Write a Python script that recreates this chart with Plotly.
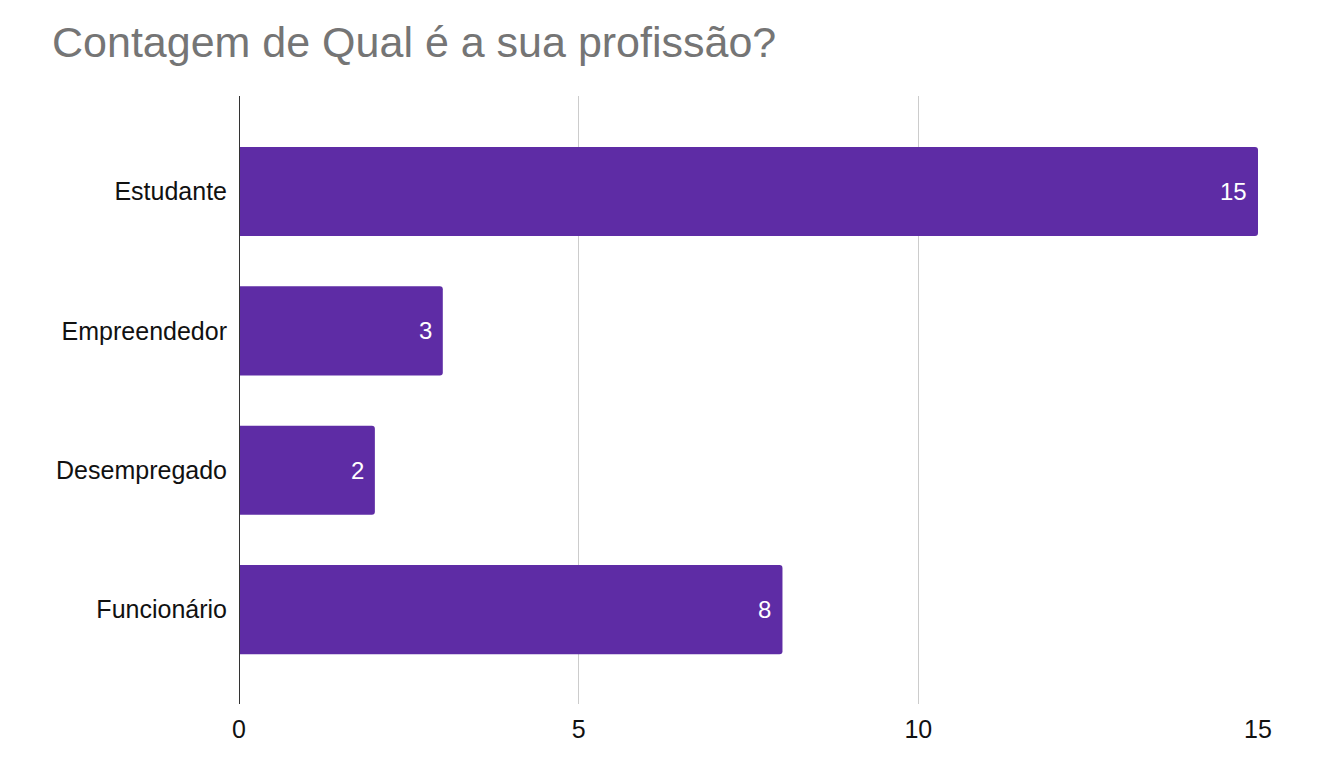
import plotly.graph_objects as go

categories = ["Estudante", "Empreendedor", "Desempregado", "Funcionário"]
values = [15, 3, 2, 8]
x_ticks = [0, 5, 10, 15]

bar_color = "#5e2ca5"
FONT = "Liberation Sans"
LABEL_SIZE = 25

fig = go.Figure()
fig.add_trace(go.Bar(
    y=categories,
    x=values,
    orientation="h",
    marker=dict(color=bar_color, cornerradius=3, line=dict(width=0)),
    width=0.64,
    hoverinfo="x+y",
))

for c, v in zip(categories, values):
    fig.add_annotation(
        x=v, y=c, text=str(v), showarrow=False,
        xanchor="right", xshift=-9,
        font=dict(family=FONT, size=LABEL_SIZE - 1, color="white"),
    )

fig.update_layout(
    width=1338, height=769,
    margin=dict(l=231, r=88, t=88, b=73),
    paper_bgcolor="white", plot_bgcolor="white",
    showlegend=False,
    title=dict(
        text="Contagem de Qual é a sua profissão?",
        xref="container", yref="container",
        x=44/1338, xanchor="left",
        y=1 - 19/769, yanchor="top",
        font=dict(family=FONT, size=43, color="#757575"),
    ),
    font=dict(family=FONT, size=LABEL_SIZE, color="#222222"),
    xaxis=dict(
        range=[0, 15.0],
        tickvals=x_ticks,
        ticktext=[str(t) for t in x_ticks],
        showgrid=True, gridcolor="#cccccc", gridwidth=1,
        zeroline=False,
        showline=False,
        ticks="outside", ticklen=3, tickcolor="rgba(0,0,0,0)",
        tickfont=dict(family=FONT, size=LABEL_SIZE, color="#111111"),
        fixedrange=True,
    ),
    yaxis=dict(
        categoryorder="array", categoryarray=categories,
        range=[3.677, -0.685],
        showgrid=False, zeroline=False,
        showline=False,
        ticks="outside", ticklen=6, tickcolor="rgba(0,0,0,0)",
        tickfont=dict(family=FONT, size=LABEL_SIZE, color="#111111"),
        fixedrange=True,
    ),
)

# dark baseline at x = 0
fig.add_shape(type="line", xref="x", yref="paper", x0=0, x1=0, y0=0, y1=1,
              line=dict(color="#333333", width=2), layer="above")

fig.write_html("out.html")
